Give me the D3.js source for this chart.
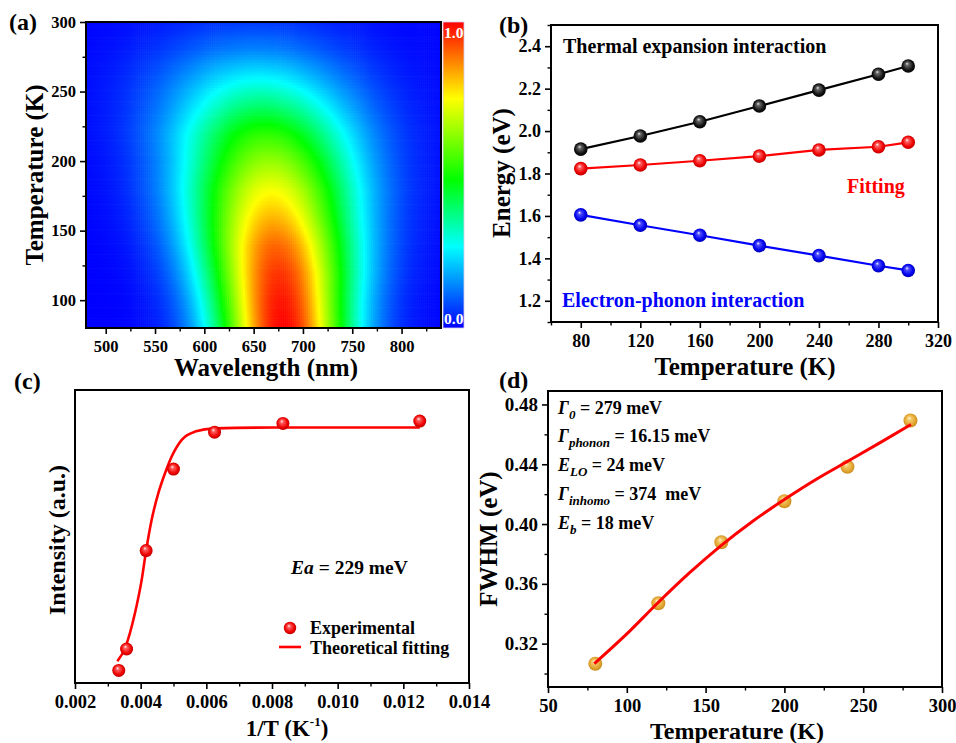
<!DOCTYPE html>
<html><head><meta charset="utf-8">
<script src="https://cdn.jsdelivr.net/npm/d3@7"></script>
<style>
body{margin:0;background:#fff;}
svg{display:block;}
svg text{font-family:"Liberation Serif","Times New Roman","DejaVu Serif",serif !important;font-weight:bold;}
</style></head>
<body>
<svg id="fig" width="956" height="743"></svg>
<script>
// ---------- DATA ----------
// (a) PL map: per-temperature emission profile
const heatTemps   = [80, 100, 120, 140, 160, 180, 200, 220, 240, 260, 280, 300];
const heatPeakNm  = [680, 678, 676, 673, 670, 668, 666, 662, 659, 655, 652, 650];
const heatWidthNm = [49, 51, 54, 57, 60, 63, 65, 68, 70, 72, 74, 75];
const heatAmp     = [1.0, 0.98, 0.95, 0.90, 0.82, 0.74, 0.64, 0.53, 0.39, 0.26, 0.14, 0.06];
const colorStops  = [0, 0.266, 0.484, 0.75, 1];
const colorList   = ["#0000ff", "#00ffff", "#00ff00", "#ffff00", "#ff0000"];
const aXTicks = [500, 550, 600, 650, 700, 750, 800];
const aYTicks = [100, 150, 200, 250, 300];

// (b) energies
const tempsB   = [80, 120, 160, 200, 240, 280, 300];
const thermalE = [1.915, 1.977, 2.044, 2.118, 2.193, 2.268, 2.307];
const fittingE = [1.823, 1.840, 1.860, 1.882, 1.911, 1.926, 1.947];
const phononE  = [1.605, 1.556, 1.509, 1.460, 1.413, 1.365, 1.343];
const bXTicks = [80, 120, 160, 200, 240, 280, 320];
const bYTicks = [1.2, 1.4, 1.6, 1.8, 2.0, 2.2, 2.4];

// (c) intensity vs 1/T
const invT      = [0.003333, 0.003571, 0.004167, 0.005, 0.00625, 0.008333, 0.0125];
const intensity = [0.043, 0.116, 0.452, 0.730, 0.856, 0.886, 0.894];
const fitInvT      = [0.00329, 0.003523, 0.003827, 0.004031, 0.004162, 0.004335, 0.004538, 0.004741, 0.004945, 0.00525, 0.005655, 0.006264, 0.00809, 0.0125];
const fitIntensity = [0.074, 0.119, 0.239, 0.352, 0.449, 0.557, 0.648, 0.716, 0.773, 0.830, 0.858, 0.869, 0.872, 0.872];
const cXTicks = [0.002, 0.004, 0.006, 0.008, 0.010, 0.012, 0.014];

// (d) FWHM vs T
const tempsD  = [80, 120, 160, 200, 240, 280];
const fwhm    = [0.3066, 0.347, 0.3878, 0.4153, 0.4383, 0.4693];
const fitT    = [79.4, 99.5, 119.6, 139.7, 159.8, 179.9, 200, 220, 240.2, 261.3, 280.3];
const fitFwhm = [0.3066, 0.326, 0.3472, 0.3673, 0.3856, 0.4019, 0.4164, 0.4298, 0.4420, 0.4548, 0.4666];
const dXTicks = [50, 100, 150, 200, 250, 300];
const dYTicks = [0.32, 0.36, 0.40, 0.44, 0.48];

// ---------- DRAW ----------
const FONT = '"Liberation Serif","Times New Roman","DejaVu Serif",serif';
const svg = d3.select("#fig");
svg.append("rect").attr("width", 956).attr("height", 743).attr("fill", "#fff");
const defs = svg.append("defs");

function sphereGrad(id, c0, c1, c2, c3) {
  const g = defs.append("radialGradient").attr("id", id)
    .attr("cx", "50%").attr("cy", "50%").attr("r", "55%").attr("fx", "40%").attr("fy", "32%");
  g.append("stop").attr("offset", "0%").attr("stop-color", c0);
  g.append("stop").attr("offset", "22%").attr("stop-color", c1);
  g.append("stop").attr("offset", "70%").attr("stop-color", c2);
  g.append("stop").attr("offset", "100%").attr("stop-color", c3);
}
sphereGrad("gBlack", "#e8e8e8", "#666", "#111", "#000");
sphereGrad("gRed", "#ffffff", "#ff6060", "#ee0000", "#b00000");
sphereGrad("gBlue", "#ffffff", "#5050ff", "#0000ee", "#0000a0");
sphereGrad("gGold", "#fffbe8", "#f4cc70", "#e2a530", "#c08418");

function frame(g, x0, y0, x1, y1) {
  g.append("rect").attr("x", x0).attr("y", y0).attr("width", x1 - x0).attr("height", y1 - y0)
    .attr("fill", "none").attr("stroke", "#000").attr("stroke-width", 2);
}
function styleAxis(ax, fs) {
  ax.attr("font-family", FONT).attr("font-weight", "bold");
  ax.select(".domain").remove();
  ax.selectAll("line").attr("stroke", "#000").attr("stroke-width", 1.6);
  ax.selectAll("text").attr("font-size", fs).attr("font-family", FONT).attr("fill", "#000");
}
function axisX(g, scale, y, major, minor, fs, pad, fmt) {
  const ax = g.append("g").attr("transform", `translate(0,${y})`)
    .call(d3.axisBottom(scale).tickValues(major).tickSize(6).tickPadding(pad).tickFormat(fmt));
  styleAxis(ax, fs);
  if (minor) {
    const mx = g.append("g").attr("transform", `translate(0,${y})`)
      .call(d3.axisBottom(scale).tickValues(minor).tickSize(3.5).tickFormat(""));
    mx.select(".domain").remove();
    mx.selectAll("line").attr("stroke", "#000").attr("stroke-width", 1.4);
  }
}
function axisY(g, scale, x, major, minor, fs, pad, fmt) {
  const ax = g.append("g").attr("transform", `translate(${x},0)`)
    .call(d3.axisLeft(scale).tickValues(major).tickSize(6).tickPadding(pad).tickFormat(fmt));
  styleAxis(ax, fs);
  if (minor) {
    const mx = g.append("g").attr("transform", `translate(${x},0)`)
      .call(d3.axisLeft(scale).tickValues(minor).tickSize(3.5).tickFormat(""));
    mx.select(".domain").remove();
    mx.selectAll("line").attr("stroke", "#000").attr("stroke-width", 1.4);
  }
}
function label(text, x, y, fs, opts = {}) {
  const t = svg.append("text").attr("x", x).attr("y", y).attr("font-size", fs)
    .attr("font-family", FONT).attr("font-weight", "bold")
    .attr("text-anchor", opts.anchor || "start").attr("fill", opts.fill || "#000").text(text);
  if (opts.rotate) t.attr("transform", `rotate(-90,${x},${y})`);
  return t;
}

// ===== (a) heatmap =====
{
  const g = svg.append("g");
  const x = d3.scaleLinear().domain([480, 840]).range([86, 441]);
  const y = d3.scaleLinear().domain([80, 300]).range([328, 22]);
  const color = d3.scaleLinear().domain(colorStops).range(colorList).clamp(true);
  const peakAt = d3.scaleLinear().domain(heatTemps).range(heatPeakNm);
  const widthAt = d3.scaleLinear().domain(heatTemps).range(heatWidthNm);
  const ampAt = d3.scaleLinear().domain(heatTemps).range(heatAmp);
  g.append("clipPath").attr("id", "clipA").append("rect")
    .attr("x", 86).attr("y", 22).attr("width", 355).attr("height", 306);
  const cells = [];
  const stepL = 2, stepT = 2;
  for (let T = 80; T <= 300; T += stepT) {
    const c = peakAt(T), s = widthAt(T), A = ampAt(T);
    for (let L = 480; L <= 840; L += stepL) {
      const v = A * Math.exp(-0.5 * ((L - c) / s) ** 2);
      cells.push({L, T, v});
    }
  }
  g.append("g").attr("clip-path", "url(#clipA)").selectAll("rect").data(cells).join("rect")
    .attr("x", d => x(d.L - stepL / 2))
    .attr("y", d => y(d.T + stepT / 2))
    .attr("width", x(stepL) - x(0) + 0.6)
    .attr("height", y(0) - y(stepT) + 0.6)
    .attr("fill", d => color(d.v));
  frame(g, 86, 22, 441, 328);
  axisX(g, x, 328, aXTicks, [525, 575, 625, 675, 725, 775, 825], 16.5, 6, d3.format("d"));
  axisY(g, y, 86, aYTicks, [125, 175, 225, 275], 16.5, 4, d3.format("d"));

  // colorbar
  const cbY = d3.scaleLinear().domain([0, 1]).range([328, 22]);
  const grad = defs.append("linearGradient").attr("id", "cbGrad")
    .attr("x1", 0).attr("y1", 1).attr("x2", 0).attr("y2", 0);
  colorStops.forEach((s, i) => grad.append("stop").attr("offset", s).attr("stop-color", colorList[i]));
  g.append("rect").attr("x", 443).attr("y", cbY(1)).attr("width", 21).attr("height", cbY(0) - cbY(1))
    .attr("fill", "url(#cbGrad)").attr("stroke", "#d9c8e8").attr("stroke-width", 0.8);
  label("1.0", 444, cbY(1) + 16, 15.5, {fill: "#fff"});
  label("0.0", 444, cbY(0) - 4, 15.5, {fill: "#fff"});

  label("(a)", 9, 30, 24);
  label("Wavelength (nm)", 266, 376, 25, {anchor: "middle"});
  label("Temperature (K)", 43, 175, 25, {anchor: "middle", rotate: true});
}

// ===== (b) energies =====
{
  const g = svg.append("g");
  const x = d3.scaleLinear().domain([60, 320]).range([551, 938]);
  const y = d3.scaleLinear().domain([1.1, 2.5]).range([322, 25]);
  frame(g, 551, 25, 938, 322);
  axisX(g, x, 322, bXTicks, [60, 100, 140, 180, 220, 260, 300], 18, 6, d3.format("d"));
  axisY(g, y, 551, bYTicks, [1.1, 1.3, 1.5, 1.7, 1.9, 2.1, 2.3, 2.5], 18, 4, d3.format(".1f"));
  const series = [
    {vals: thermalE, color: "#000", grad: "gBlack"},
    {vals: fittingE, color: "#ff0000", grad: "gRed"},
    {vals: phononE, color: "#0000ff", grad: "gBlue"}
  ];
  const line = d3.line().x(d => x(d[0])).y(d => y(d[1]));
  series.forEach(s => {
    const pts = tempsB.map((t, i) => [t, s.vals[i]]);
    g.append("path").attr("d", line(pts)).attr("fill", "none").attr("stroke", s.color).attr("stroke-width", 2.2);
    g.selectAll(null).data(pts).join("circle")
      .attr("cx", d => x(d[0])).attr("cy", d => y(d[1])).attr("r", 6.8)
      .attr("fill", `url(#${s.grad})`);
  });
  label("Thermal expansion interaction", 563, 53, 20);
  label("Fitting", 847, 193, 20, {fill: "#ff0000"});
  label("Electron-phonon interaction", 562, 307, 20, {fill: "#0000ff"});
  label("(b)", 499, 33, 24);
  label("Temperature (K)", 745, 375, 25, {anchor: "middle"});
  label("Energy (eV)", 510, 173, 25, {anchor: "middle", rotate: true});
}

// ===== (c) intensity vs 1/T =====
{
  const g = svg.append("g");
  const x = d3.scaleLinear().domain([0.002, 0.014]).range([75, 469]);
  const y = d3.scaleLinear().domain([0, 1]).range([683, 390]);
  frame(g, 75, 390, 469, 683);
  axisX(g, x, 683, cXTicks, [0.003, 0.005, 0.007, 0.009, 0.011, 0.013], 18.5, 6, d3.format(".3f"));
  const line = d3.line().curve(d3.curveMonotoneX).x(d => x(d[0])).y(d => y(d[1]));
  g.append("path").attr("d", line(fitInvT.map((t, i) => [t, fitIntensity[i]])))
    .attr("fill", "none").attr("stroke", "#ff0000").attr("stroke-width", 2.6);
  g.selectAll(null).data(invT.map((t, i) => [t, intensity[i]])).join("circle")
    .attr("cx", d => x(d[0])).attr("cy", d => y(d[1])).attr("r", 6.5).attr("fill", "url(#gRed)");
  // legend
  g.append("circle").attr("cx", 290).attr("cy", 628).attr("r", 6.2).attr("fill", "url(#gRed)");
  label("Experimental", 310, 634, 18);
  g.append("line").attr("x1", 279).attr("x2", 301).attr("y1", 647).attr("y2", 647)
    .attr("stroke", "#ff0000").attr("stroke-width", 2.6);
  label("Theoretical fitting", 310, 654, 18);
  const ea = label("", 291, 574, 19.5);
  ea.append("tspan").attr("font-style", "italic").text("Ea");
  ea.append("tspan").text(" = 229 meV");
  label("(c)", 14, 389, 24);
  const xt = label("1/T (K", 287, 736, 23, {anchor: "middle"});
  xt.append("tspan").attr("font-size", 13).attr("dy", -10).text("-1");
  xt.append("tspan").attr("dy", 10).text(")");
  label("Intensity (a.u.)", 65, 540, 24, {anchor: "middle", rotate: true});
}

// ===== (d) FWHM =====
{
  const g = svg.append("g");
  const x = d3.scaleLinear().domain([50, 300]).range([548, 942]);
  const y = d3.scaleLinear().domain([0.291, 0.489]).range([687, 391]);
  frame(g, 548, 391, 942, 687);
  axisX(g, x, 687, dXTicks, [75, 125, 175, 225, 275], 18.5, 6, d3.format("d"));
  axisY(g, y, 548, dYTicks, [0.30, 0.34, 0.38, 0.42, 0.46], 19, 4, d3.format(".2f"));
  const line = d3.line().curve(d3.curveMonotoneX).x(d => x(d[0])).y(d => y(d[1]));
  g.selectAll(null).data(tempsD.map((t, i) => [t, fwhm[i]])).join("circle")
    .attr("cx", d => x(d[0])).attr("cy", d => y(d[1])).attr("r", 7).attr("fill", "url(#gGold)");
  g.append("path").attr("d", line(fitT.map((t, i) => [t, fitFwhm[i]])))
    .attr("fill", "none").attr("stroke", "#ff0000").attr("stroke-width", 3);

  const params = [
    {sym: "Γ", sub: "0", val: " = 279 meV"},
    {sym: "Γ", sub: "phonon", val: " = 16.15 meV"},
    {sym: "E", sub: "LO", val: " = 24 meV"},
    {sym: "Γ", sub: "inhomo", val: " = 374  meV"},
    {sym: "E", sub: "b", val: " = 18 meV"}
  ];
  params.forEach((p, i) => {
    const t = label("", 558, 413.5 + i * 28.8, 18).attr("xml:space", "preserve").style("white-space", "pre");
    t.append("tspan").attr("font-style", "italic").text(p.sym);
    t.append("tspan").attr("font-style", "italic").attr("font-size", 13).attr("dy", 5).text(p.sub);
    t.append("tspan").attr("dy", -5).text(p.val);
  });
  label("(d)", 499, 388, 24);
  label("Temperature (K)", 737, 739, 24, {anchor: "middle"});
  label("FWHM (eV)", 497, 539, 25, {anchor: "middle", rotate: true});
}
</script>
</body></html>
